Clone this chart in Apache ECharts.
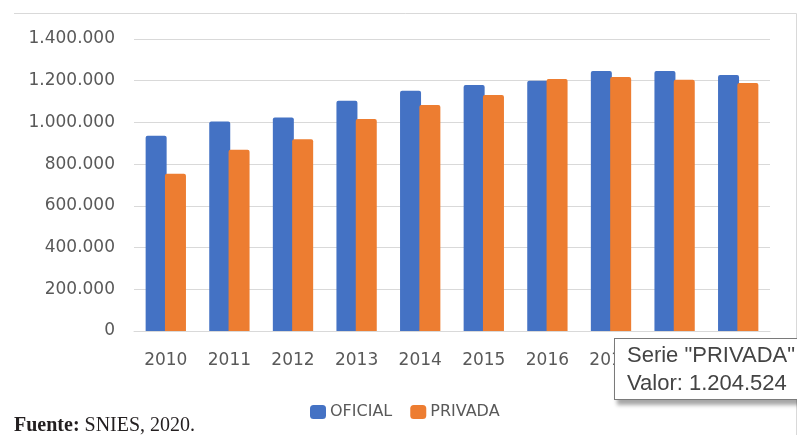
<!DOCTYPE html>
<html>
<head>
    <meta charset="utf-8">
    <title>Matrícula OFICIAL vs PRIVADA</title>
    <script src="https://cdn.jsdelivr.net/npm/echarts@6/dist/echarts.min.js"></script>
    <style>
        html, body {
            margin: 0;
            padding: 0;
            background: #fff;
            overflow: hidden;
        }
        #chart {
            width: 797px;
            height: 435px;
            overflow: hidden;
        }
    </style>
</head>
<body>
    <div id="chart"></div>

    <script>
        const years = ['2010', '2011', '2012', '2013', '2014', '2015', '2016', '2017', '2018', '2019'];
        const oficial = [936000, 1005000, 1024000, 1104000, 1152000, 1179000, 1200000, 1247000, 1247000, 1227000];
        const privada = [754000, 869000, 919000, 1016000, 1084000, 1131000, 1208000, 1218000, 1204524, 1189000];
        const seriesNames = ['OFICIAL', 'PRIVADA'];
        const yTicks = [0, 200000, 400000, 600000, 800000, 1000000, 1200000, 1400000];

        // 1.204.524 style
        function fmt(v) {
            return String(Math.round(v)).replace(/\B(?=(\d{3})+(?!\d))/g, '.');
        }

        const chart = echarts.init(document.getElementById('chart'));

        chart.setOption({
            animation: false,
            color: ['#4472C4', '#ED7D31'],
            grid: {
                left: 134,
                right: 27,
                top: 39,
                bottom: 104
            },
            legend: {
                data: seriesNames,
                left: 305,
                top: 399,
                itemWidth: 16,
                itemHeight: 14,
                itemGap: 18,
                icon: 'roundRect',
                textStyle: {
                    fontFamily: 'DejaVu Sans',
                    fontSize: 16,
                    color: '#595959',
                    padding: [0, 0, 0, -1]
                }
            },
            tooltip: {
                trigger: 'item',
                triggerOn: 'none',
                alwaysShowContent: true,
                confine: false,
                transitionDuration: 0,
                position: [614, 338],
                backgroundColor: '#fff',
                borderColor: '#7a7a7a',
                borderWidth: 1,
                borderRadius: 0,
                padding: [2, 12, 2, 12],
                extraCssText: 'box-shadow: 3px 5px 4px rgba(0,0,0,0.35); line-height: 28px; width: 200px; white-space: nowrap;',
                textStyle: {
                    fontFamily: 'Liberation Sans',
                    fontSize: 22,
                    color: '#444'
                },
                formatter: function (p) {
                    return 'Serie "' + p.seriesName + '"<br>Valor: ' + fmt(p.value);
                }
            },
            xAxis: {
                type: 'category',
                data: years,
                axisLine: { lineStyle: { color: '#d9d9d9', width: 1 } },
                axisTick: { show: false },
                axisLabel: {
                    margin: 21,
                    fontFamily: 'DejaVu Sans',
                    fontSize: 17,
                    color: '#595959'
                }
            },
            yAxis: {
                type: 'value',
                min: yTicks[0],
                max: yTicks[yTicks.length - 1],
                interval: yTicks[1] - yTicks[0],
                axisLine: { show: false },
                axisTick: { show: false },
                splitLine: { lineStyle: { color: '#d9d9d9', width: 1 } },
                axisLabel: {
                    margin: 19,
                    fontFamily: 'DejaVu Sans',
                    fontSize: 17,
                    color: '#595959',
                    formatter: fmt
                }
            },
            series: [
                {
                    name: seriesNames[0],
                    type: 'bar',
                    data: oficial,
                    barWidth: 21,
                    barGap: '-8%',
                    itemStyle: { borderRadius: [2, 2, 0, 0] }
                },
                {
                    name: seriesNames[1],
                    type: 'bar',
                    data: privada,
                    barWidth: 21,
                    itemStyle: { borderRadius: [2, 2, 0, 0] }
                }
            ],
            graphic: [
                {
                    // chart area border (top and right edge)
                    type: 'polyline',
                    silent: true,
                    shape: { points: [[14, 13.5], [796.5, 13.5], [796.5, 435]] },
                    style: { stroke: '#d9d9d9', lineWidth: 1, fill: null }
                },
                {
                    type: 'text',
                    left: 14,
                    top: 416,
                    silent: true,
                    style: {
                        text: '{b|Fuente:} SNIES, 2020.',
                        fontFamily: 'Liberation Serif',
                        fontSize: 20,
                        fill: '#231f20',
                        rich: {
                            b: {
                                fontFamily: 'Liberation Serif',
                                fontSize: 20,
                                fontWeight: 'bold',
                                fill: '#231f20'
                            }
                        }
                    }
                }
            ]
        });

        chart.dispatchAction({ type: 'showTip', seriesIndex: 1, dataIndex: 8 });
    </script>
</body>
</html>
